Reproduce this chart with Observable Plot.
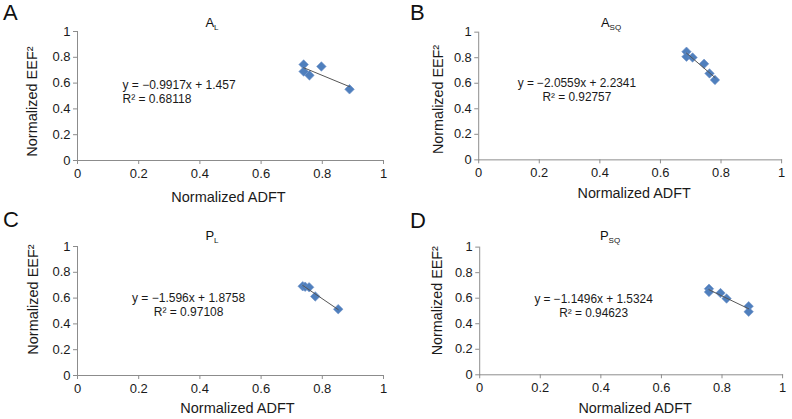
<!DOCTYPE html>
<html>
<head>
<meta charset="utf-8">
<script src="https://cdn.jsdelivr.net/npm/d3@7"></script>
<script src="https://cdn.jsdelivr.net/npm/@observablehq/plot@0.6"></script>
<style>
  body { margin: 0; background: #fff; }
  #wrap { position: relative; width: 792px; height: 419px; overflow: hidden; background: #fff;
          font-family: "Liberation Sans", Arial, Helvetica, sans-serif; color: #111; }
  .panel { position: absolute; }
  .letter { position: absolute; font-size: 22px; line-height: 1; color: #111; }
  .title { position: absolute; font-size: 13px; line-height: 1; white-space: nowrap; transform: translateX(-50%); color: #111; }
  .title sub { font-size: 8px; vertical-align: -3px; line-height: 0; }
  #wrap svg text { fill: #1a1a1a; }
  #wrap svg g[aria-label^="x-axis"], #wrap svg g[aria-label^="y-axis"] { font-size: 13px; }
</style>
</head>
<body>
<div id="wrap"></div>
<script>
// ---- data ----
const xTicks = [0, 0.2, 0.4, 0.6, 0.8, 1];
const yTicks = [0, 0.2, 0.4, 0.6, 0.8, 1];
const panelLetters = ["A", "B", "C", "D"];
const titleMain = ["A", "A", "P", "P"];
const titleSub = ["L", "SQ", "L", "SQ"];
const xLabel = "Normalized ADFT";
const yLabel = "Normalized EEF²";
const equations = ["y = −0.9917x + 1.457", "y = −2.0559x + 2.2341", "y = −1.596x + 1.8758", "y = −1.1496x + 1.5324"];
const r2Labels = ["R² = 0.68118", "R² = 0.92757", "R² = 0.97108", "R² = 0.94623"];

const xA = [0.739, 0.739, 0.758, 0.797, 0.889];
const yA = [0.744, 0.690, 0.660, 0.729, 0.552];
const xB = [0.686, 0.686, 0.706, 0.744, 0.762, 0.780];
const yB = [0.847, 0.808, 0.802, 0.752, 0.677, 0.626];
const xC = [0.736, 0.744, 0.757, 0.777, 0.852];
const yC = [0.692, 0.688, 0.684, 0.613, 0.514];
const xD = [0.757, 0.757, 0.795, 0.815, 0.888, 0.888];
const yD = [0.674, 0.649, 0.640, 0.597, 0.537, 0.494];

const seriesX = [xA, xB, xC, xD];
const seriesY = [yA, yB, yC, yD];

// ---- layout (positions / sizes only) ----
const layout = [
  {left: 0,   top: 0,   w: 396, h: 210, ml: 77, mr: 13, mt: 31, mb: 50,
   letter: [3, 2], title: [212, 16], eq: [0.147, 0.535, "start"], ylab: [0.457, -45], xlab: [-2, 37]},
  {left: 400, top: 0,   w: 396, h: 210, ml: 79, mr: 11, mt: 32, mb: 49,
   letter: [410, 2], title: [611, 16], eq: [0.324, 0.554, "middle"], ylab: [0.473, -41], xlab: [4, 34]},
  {left: 0,   top: 210, w: 396, h: 209, ml: 77, mr: 13, mt: 36, mb: 44,
   letter: [3, 209], title: [212, 229], eq: [0.363, 0.55, "middle"], ylab: [0.589, -44], xlab: [7, 33]},
  {left: 400, top: 210, w: 396, h: 209, ml: 80, mr: 10, mt: 37, mb: 43,
   letter: [410, 210], title: [610, 229], eq: [0.376, 0.543, "middle"], ylab: [0.58, -43], xlab: [4, 34]}
];

const wrap = document.getElementById("wrap");
const fmt = d => String(d);

layout.forEach((L, i) => {
  const pts = seriesX[i].map((x, j) => ({x, y: seriesY[i][j]}));
  const svg = Plot.plot({
    width: L.w, height: L.h,
    marginLeft: L.ml, marginRight: L.mr, marginTop: L.mt, marginBottom: L.mb,
    style: {fontFamily: '"Liberation Sans", Arial, Helvetica, sans-serif', fontSize: "13px",
            color: "#8c8c8c", background: "transparent", overflow: "visible"},
    x: {domain: [0, 1], ticks: xTicks, tickFormat: fmt, tickSize: 4, tickPadding: 4, label: null, line: true},
    y: {domain: [0, 1], ticks: yTicks, tickFormat: fmt, tickSize: 4, tickPadding: 3, label: null, line: true},
    marks: [
      Plot.dot(pts, {x: "x", y: "y", symbol: "diamond2", r: 4.3, fill: "#4f7fbd", stroke: "#6f92c8", strokeWidth: 0.6}),
      Plot.linearRegressionY(pts, {x: "x", y: "y", ci: 0, stroke: "#555", strokeWidth: 1}),
      Plot.text([equations[i] + "\n" + r2Labels[i]], {
        x: () => L.eq[0], y: () => L.eq[1], text: d => d, textAnchor: L.eq[2],
        lineAnchor: "middle", fontSize: 12, lineHeight: 1.17
      }),
      Plot.text([xLabel], {frameAnchor: "bottom", text: d => d, dx: L.xlab[0], dy: L.xlab[1],
        textAnchor: "middle", lineAnchor: "middle", fontSize: 14.5}),
      Plot.text([yLabel], {frameAnchor: "left", y: () => L.ylab[0], text: d => d, dx: L.ylab[1], rotate: -90,
        textAnchor: "middle", lineAnchor: "middle", fontSize: 14.5})
    ]
  });
  const holder = document.createElement("div");
  holder.className = "panel";
  holder.style.left = L.left + "px";
  holder.style.top = L.top + "px";
  holder.appendChild(svg);
  wrap.appendChild(holder);

  const letter = document.createElement("div");
  letter.className = "letter";
  letter.style.left = L.letter[0] + "px";
  letter.style.top = L.letter[1] + "px";
  letter.textContent = panelLetters[i];
  wrap.appendChild(letter);

  const title = document.createElement("div");
  title.className = "title";
  title.style.left = L.title[0] + "px";
  title.style.top = L.title[1] + "px";
  title.appendChild(document.createTextNode(titleMain[i]));
  const sub = document.createElement("sub");
  sub.textContent = titleSub[i];
  title.appendChild(sub);
  wrap.appendChild(title);
});
</script>
</body>
</html>
